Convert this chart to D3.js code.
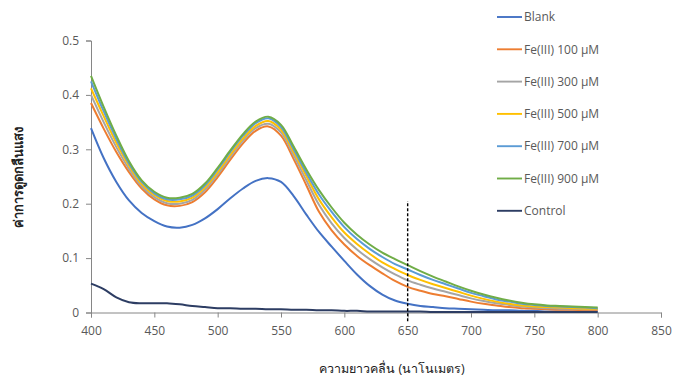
<!DOCTYPE html>
<html>
<head>
<meta charset="utf-8">
<script src="https://cdn.jsdelivr.net/npm/d3@7"></script>
<style>
  body { margin: 0; background: #fff; }
  svg text { font-family: "Open Sans", "Noto Sans", sans-serif; }
</style>
</head>
<body>
<div id="chart"></div>
<script>
// wavelength (nm)
const wavelengths = [400, 410, 420, 430, 440, 450, 460, 470, 480, 490, 500, 510, 520, 530, 540, 550, 560, 570, 580, 590,
                     600, 610, 620, 630, 640, 650, 660, 670, 680, 690, 700, 710, 720, 730, 740, 750, 760, 770, 780, 790, 800];

const blank  = [.339, .284, .240, .206, .183, .168, .158, .156, .161, .173, .190, .210, .228, .242, .247, .240, .214, .180, .148, .121,
                .095, .070, .049, .033, .022, .016, .012, .010, .008, .007, .006, .005, .004, .004, .003, .003, .002, .002, .002, .002, .002];
const fe100  = [.385, .338, .295, .258, .228, .208, .197, .196, .203, .221, .249, .281, .311, .334, .342, .325, .282, .234, .185, .151,
                .125, .104, .087, .072, .058, .047, .040, .034, .030, .025, .020, .016, .013, .010, .008, .007, .006, .005, .005, .004, .004];
const fe300  = [.400, .350, .304, .264, .232, .212, .201, .200, .207, .226, .254, .286, .316, .339, .347, .331, .289, .243, .198, .164,
                .137, .116, .098, .083, .070, .059, .051, .044, .038, .032, .026, .021, .017, .014, .011, .009, .008, .007, .007, .006, .006];
const fe500  = [.412, .361, .312, .270, .236, .216, .205, .204, .211, .230, .258, .290, .320, .343, .352, .336, .295, .251, .208, .175,
                .147, .126, .108, .092, .080, .069, .060, .052, .045, .038, .031, .025, .020, .016, .013, .011, .010, .009, .008, .007, .007];
const fe700  = [.425, .370, .319, .274, .240, .219, .208, .208, .215, .234, .263, .295, .325, .348, .357, .341, .300, .257, .217, .185,
                .157, .135, .117, .102, .089, .079, .069, .060, .052, .044, .036, .030, .024, .020, .016, .014, .012, .011, .010, .009, .008];
const fe900  = [.435, .378, .325, .278, .243, .222, .211, .211, .218, .237, .266, .298, .328, .351, .360, .345, .305, .263, .225, .193,
                .165, .143, .125, .110, .098, .087, .076, .066, .057, .048, .040, .033, .027, .022, .018, .015, .013, .012, .011, .010, .009];
const control = [.053, .043, .028, .019, .017, .017, .017, .015, .012, .010, .008, .008, .007, .007, .006, .006, .005, .005, .004, .004,
                 .003, .003, .002, .002, .002, .002, .002, .001, .001, .001, .001, .001, .001, .001, .001, .001, .001, .001, .001, .001, .001];

const seriesNames = ["Blank", "Fe(III) 100 µM", "Fe(III) 300 µM", "Fe(III) 500 µM", "Fe(III) 700 µM", "Fe(III) 900 µM", "Control"];
const seriesValues = [blank, fe100, fe300, fe500, fe700, fe900, control];
const seriesColors = ["#4472C4", "#ED7D31", "#A5A5A5", "#FFC000", "#5B9BD5", "#70AD47", "#2D3D63"];

// dashed marker at 650 nm
const markerX = 650;
const markerRange = [-0.016, 0.205];

const xTicks = [400, 450, 500, 550, 600, 650, 700, 750, 800, 850];
const yTicks = [0, 0.1, 0.2, 0.3, 0.4, 0.5];

const width = 673, height = 381;

const svg = d3.select('#chart').append('svg')
    .attr('width', width)
    .attr('height', height);

const x = d3.scaleLinear().domain([400, 850]).range([91, 661]);
const y = d3.scaleLinear().domain([0, 0.5]).range([312.5, 40.5]);

const axisColor = '#868686';
const labelColor = '#595959';

// y axis
const yAxis = svg.append('g')
    .attr('transform', `translate(${x(400)},0)`)
    .call(d3.axisLeft(y).tickValues(yTicks).tickSize(5).tickPadding(7)
        .tickFormat(d => d === 0 ? '0' : d3.format('.1f')(d)));
yAxis.select('.domain').attr('stroke', axisColor);
yAxis.selectAll('.tick line').attr('stroke', axisColor);
yAxis.selectAll('.tick text').attr('fill', labelColor).attr('font-size', 12);

// x axis
const xAxis = svg.append('g')
    .attr('transform', `translate(0,${y(0)})`)
    .call(d3.axisBottom(x).tickValues(xTicks).tickSize(5).tickPadding(9));
xAxis.select('.domain').attr('stroke', axisColor);
xAxis.selectAll('.tick line').attr('stroke', axisColor);
xAxis.selectAll('.tick text').attr('fill', labelColor).attr('font-size', 12);

// curves
const line = d3.line()
    .x((d, i) => x(wavelengths[i]))
    .y(d => y(d))
    .curve(d3.curveCatmullRom.alpha(0.5));

svg.append('g')
    .selectAll('path')
    .data(seriesValues)
    .enter().append('path')
    .attr('d', d => line(d))
    .attr('fill', 'none')
    .attr('stroke', (d, i) => seriesColors[i])
    .attr('stroke-width', 2)
    .attr('stroke-linejoin', 'round');

// dashed marker line
svg.append('line')
    .attr('x1', x(markerX)).attr('x2', x(markerX))
    .attr('y1', y(markerRange[0])).attr('y2', y(markerRange[1]))
    .attr('stroke', '#000')
    .attr('stroke-width', 1.4)
    .attr('stroke-dasharray', '3,2');

// legend
const legend = svg.append('g')
    .selectAll('g')
    .data(seriesNames)
    .enter().append('g')
    .attr('transform', (d, i) => `translate(497,${17 + i * 32.3})`);

legend.append('line')
    .attr('x1', 0).attr('x2', 25)
    .attr('stroke', (d, i) => seriesColors[i])
    .attr('stroke-width', 1.9);

legend.append('text')
    .attr('x', 27)
    .attr('dy', '0.35em')
    .attr('font-size', 12)
    .attr('fill', labelColor)
    .text(d => d);

// axis titles
svg.append('text')
    .attr('transform', 'translate(20,177) rotate(-90)')
    .attr('text-anchor', 'middle')
    .attr('dominant-baseline', 'middle')
    .attr('font-size', 13)
    .attr('font-weight', 'bold')
    .attr('fill', '#222')
    .text('ค่าการดูดกลืนแสง');

svg.append('text')
    .attr('x', 392)
    .attr('y', 370)
    .attr('text-anchor', 'middle')
    .attr('dominant-baseline', 'middle')
    .attr('font-size', 12.5)
    .attr('fill', '#222')
    .text('ความยาวคลื่น (นาโนเมตร)');
</script>
</body>
</html>
